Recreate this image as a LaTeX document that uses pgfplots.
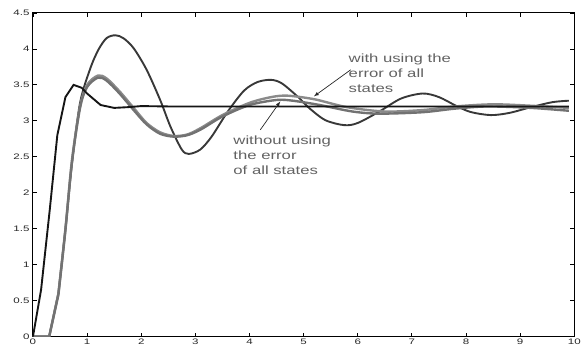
\documentclass[border=0pt]{standalone}
\usepackage{fontspec}
\setmainfont{Liberation Sans}
\newfontfamily\labelfont[FakeStretch=1.45]{Liberation Sans}
\newfontfamily\annfont[FakeStretch=1.4]{Liberation Sans}
\usepackage{pgfplots}
\pgfplotsset{compat=1.18}
\definecolor{txtgray}{HTML}{626262}
\definecolor{cblack}{HTML}{151515}
\definecolor{cdark}{HTML}{383838}
\definecolor{cgrayA}{HTML}{8A8A8A}
\definecolor{cgrayB}{HTML}{727272}
\begin{document}
\begin{tikzpicture}
\begin{axis}[
  width=542bp, height=324bp, scale only axis,
  xmin=0, xmax=10, ymin=0, ymax=4.5,
  xtick={0,1,...,10},
  ytick={0,0.5,1,1.5,2,2.5,3,3.5,4,4.5},
  yticklabels={0,0.5,1,1.5,2,2.5,3,3.5,4,4.5},
  tick align=inside,
  major tick length=4bp,
  axis line style={line width=1pt, black},
  tick style={line width=0.8pt, black},
  /pgf/number format/assume math mode=true,
  tick label style={font=\labelfont\fontsize{8}{9}\selectfont, text=black!85},
  xticklabel style={yshift=1bp},
  clip=true,
]
% dark high-overshoot curve
\addplot[cdark, line width=1.9pt] coordinates {(0,0) (0.3,0) (0.47,0.6)};
\addplot[cdark, line width=1.9pt, smooth, tension=0.5] coordinates {
(0.47,0.6) (0.6,1.5) (0.72,2.4) (0.87,3.25) (1.06,3.73) (1.21,3.99)
(1.36,4.15) (1.52,4.19) (1.67,4.15) (1.86,4.01) (2.1,3.71) (2.35,3.29) (2.54,2.92)
(2.75,2.6) (2.88,2.54) (3.09,2.6) (3.3,2.78) (3.6,3.13) (3.9,3.42) (4.15,3.54)
(4.4,3.57) (4.6,3.52) (4.9,3.33) (5.1,3.18) (5.4,3.01) (5.75,2.94) (6.0,2.97)
(6.4,3.13) (6.8,3.31) (7.2,3.38) (7.5,3.33) (7.84,3.2) (8.1,3.12) (8.46,3.08)
(8.8,3.11) (9.2,3.19) (9.6,3.26) (9.9,3.28)
};
% gray curve A (with using)
\addplot[cgrayA, line width=2.4pt] coordinates {(0,0) (0.3,0) (0.47,0.6)};
\addplot[cgrayA, line width=2.4pt, smooth, tension=0.5] coordinates {
(0.47,0.6) (0.6,1.5) (0.72,2.45) (0.87,3.2) (1.0,3.5) (1.2,3.63)
(1.36,3.59) (1.6,3.41) (1.86,3.18) (2.1,2.97) (2.35,2.84) (2.6,2.79) (2.85,2.81)
(3.1,2.9) (3.5,3.08) (4.0,3.25) (4.4,3.33) (4.7,3.35) (5.2,3.3) (5.8,3.19)
(6.5,3.13) (7.2,3.15) (7.8,3.2) (8.5,3.23) (9.2,3.21) (9.9,3.18)
};
% gray curve B (without using)
\addplot[cgrayB, line width=2.4pt] coordinates {(0,0) (0.3,0) (0.47,0.58)};
\addplot[cgrayB, line width=2.4pt, smooth, tension=0.5] coordinates {
(0.47,0.58) (0.6,1.48) (0.72,2.42) (0.87,3.18) (1.0,3.47) (1.2,3.6)
(1.36,3.56) (1.6,3.38) (1.86,3.15) (2.1,2.95) (2.35,2.82) (2.6,2.78) (2.85,2.8)
(3.1,2.88) (3.5,3.06) (4.0,3.22) (4.5,3.29) (4.8,3.28) (5.3,3.22) (5.9,3.13)
(6.4,3.1) (7.2,3.12) (7.8,3.17) (8.4,3.2) (9.2,3.18) (9.9,3.14)
};
% black fast curve
\addplot[cblack, line width=1.9pt] coordinates {
(0,0) (0.15,0.65) (0.31,1.76) (0.45,2.8) (0.6,3.33) (0.75,3.5) (0.9,3.46)
(1.0,3.38) (1.25,3.22) (1.5,3.18) (1.75,3.19) (2.0,3.205) (2.5,3.2) (9.9,3.2)
};
% annotations
\node[anchor=north west, align=left, text=txtgray, inner sep=0pt,
  font=\annfont\fontsize{12}{15}\selectfont] at (axis cs:5.83,3.93)
  {with using the\\error of all\\states};
\node[anchor=north west, align=left, text=txtgray, inner sep=0pt,
  font=\annfont\fontsize{12}{15}\selectfont] at (axis cs:3.70,2.79)
  {without using\\the error\\of all states};
\draw[-latex, black!85, line width=0.7pt] (axis cs:5.87,3.71) -- (axis cs:5.19,3.34);
\draw[-latex, black!85, line width=0.7pt] (axis cs:4.2,2.875) -- (axis cs:4.57,3.27);
\end{axis}
\path (current axis.south west) ++(-33bp,-14bp) coordinate (bbA);
\path (current axis.north east) ++(9bp,13bp) coordinate (bbB);
\path[use as bounding box] (bbA) rectangle (bbB);
\end{tikzpicture}
\end{document}
